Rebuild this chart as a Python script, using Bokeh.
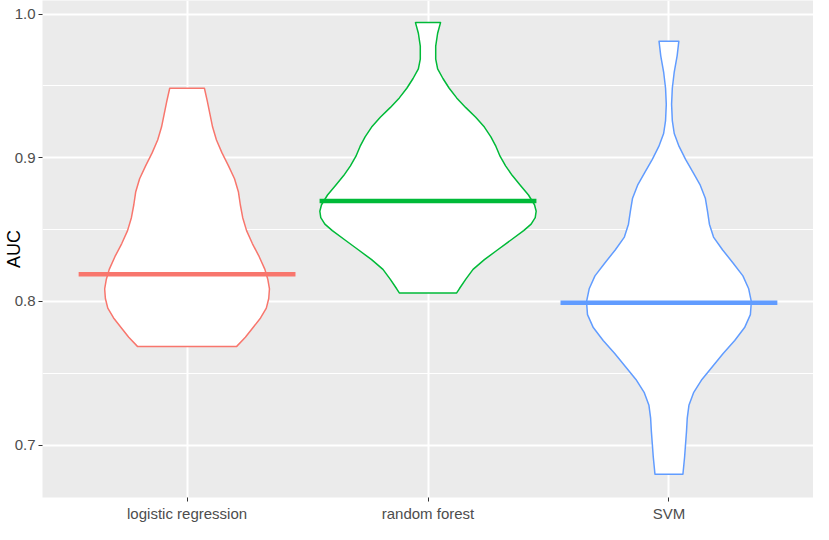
from bokeh.plotting import figure
from bokeh.models import Range1d, FixedTicker
from bokeh.embed import file_html
from bokeh.resources import INLINE

# ---- data ----
categories = ["logistic regression", "random forest", "SVM"]
colors = ["#F8766D", "#00BA38", "#619CFF"]

# violin outline: AUC value and half-width (in category units), top to bottom
lr_auc = [0.9484, 0.9394, 0.9304, 0.9214, 0.9124, 0.9034, 0.8944, 0.8854, 0.8764,
          0.8673, 0.8583, 0.8493, 0.8403, 0.8313, 0.8223, 0.8155, 0.8088, 0.8020,
          0.7953, 0.7885, 0.7818, 0.7750, 0.7687]
lr_halfwidth = [0.072, 0.084, 0.095, 0.106, 0.122, 0.145, 0.172, 0.197, 0.213,
                0.221, 0.231, 0.247, 0.271, 0.299, 0.323, 0.335, 0.342, 0.339,
                0.329, 0.305, 0.274, 0.242, 0.206]

rf_auc = [0.9941, 0.9867, 0.9777, 0.9687, 0.9619, 0.9552, 0.9484, 0.9417, 0.9349,
          0.9282, 0.9214, 0.9146, 0.9079, 0.9011, 0.8944, 0.8876, 0.8809, 0.8741,
          0.8673, 0.8628, 0.8583, 0.8538, 0.8493, 0.8426, 0.8358, 0.8291, 0.8223,
          0.8155, 0.8088, 0.8059]
rf_halfwidth = [0.052, 0.040, 0.032, 0.032, 0.040, 0.062, 0.088, 0.119, 0.157,
                0.198, 0.234, 0.261, 0.282, 0.299, 0.322, 0.350, 0.383, 0.417,
                0.442, 0.449, 0.445, 0.428, 0.397, 0.343, 0.288, 0.234, 0.187,
                0.157, 0.130, 0.119]

svm_auc = [0.9811, 0.9710, 0.9597, 0.9484, 0.9372, 0.9259, 0.9169, 0.9079, 0.8989,
           0.8899, 0.8809, 0.8719, 0.8628, 0.8538, 0.8448, 0.8358, 0.8268, 0.8178,
           0.8088, 0.7998, 0.7908, 0.7818, 0.7728, 0.7637, 0.7547, 0.7457, 0.7367,
           0.7277, 0.7187, 0.7097, 0.7007, 0.6917, 0.6797]
svm_halfwidth = [0.041, 0.034, 0.022, 0.014, 0.011, 0.014, 0.022, 0.042, 0.069,
                 0.100, 0.130, 0.151, 0.160, 0.168, 0.185, 0.223, 0.266, 0.307,
                 0.331, 0.342, 0.338, 0.314, 0.273, 0.225, 0.181, 0.137, 0.103,
                 0.083, 0.076, 0.073, 0.069, 0.065, 0.058]

medians = [0.819, 0.870, 0.799]
crossbar_halfwidth = 0.45

y_ticks = [0.7, 0.8, 0.9, 1.0]
y_minor = [0.75, 0.85, 0.95]

violins = [(lr_auc, lr_halfwidth), (rf_auc, rf_halfwidth), (svm_auc, svm_halfwidth)]

FONT = "Liberation Sans"

p = figure(width=813, height=524, output_backend="svg", toolbar_location=None,
           x_range=Range1d(0.4, 3.6), y_range=Range1d(0.6635, 1.0095))

p.background_fill_color = "#EBEBEB"
p.border_fill_color = "white"
p.outline_line_color = None
p.min_border_left = 30
p.min_border_right = 0
p.min_border_top = 0
p.min_border_bottom = 0

# grids
p.xgrid.grid_line_color = "white"
p.xgrid.grid_line_width = 2
p.ygrid.grid_line_color = "white"
p.ygrid.grid_line_width = 2
p.ygrid.minor_grid_line_color = "white"
p.ygrid.minor_grid_line_width = 1

# axes
p.xaxis.ticker = FixedTicker(ticks=[1, 2, 3])
p.xaxis.major_label_overrides = {i + 1: c for i, c in enumerate(categories)}
p.yaxis.ticker = FixedTicker(ticks=y_ticks, minor_ticks=y_minor)
p.yaxis.major_label_overrides = {t: f"{t:.1f}" for t in y_ticks}
p.yaxis.axis_label = "AUC"

for ax in (p.xaxis[0], p.yaxis[0]):
    ax.axis_line_color = None
    ax.major_tick_line_color = "#333333"
    ax.major_tick_line_width = 1
    ax.major_tick_in = 0
    ax.major_tick_out = 4
    ax.minor_tick_line_color = None
    ax.major_label_text_font = FONT
    ax.major_label_text_font_size = "15px"
    ax.major_label_text_color = "#4D4D4D"
    ax.major_label_standoff = 3
p.yaxis.axis_label_text_font = FONT
p.yaxis.axis_label_text_font_size = "18px"
p.yaxis.axis_label_text_font_style = "normal"
p.yaxis.axis_label_text_color = "black"
p.yaxis.axis_label_standoff = -12

# violins
for i, (auc, hw) in enumerate(violins):
    cx = i + 1
    xs = [cx + w for w in hw] + [cx - w for w in reversed(hw)]
    ys = list(auc) + list(reversed(auc))
    p.patch(xs, ys, fill_color="white", line_color=colors[i], line_width=1.5,
            line_join="round")

# median crossbars
for i, m in enumerate(medians):
    cx = i + 1
    p.line([cx - crossbar_halfwidth, cx + crossbar_halfwidth], [m, m],
           line_color=colors[i], line_width=4.5)

open("out.html", "w").write(file_html(p, INLINE))
